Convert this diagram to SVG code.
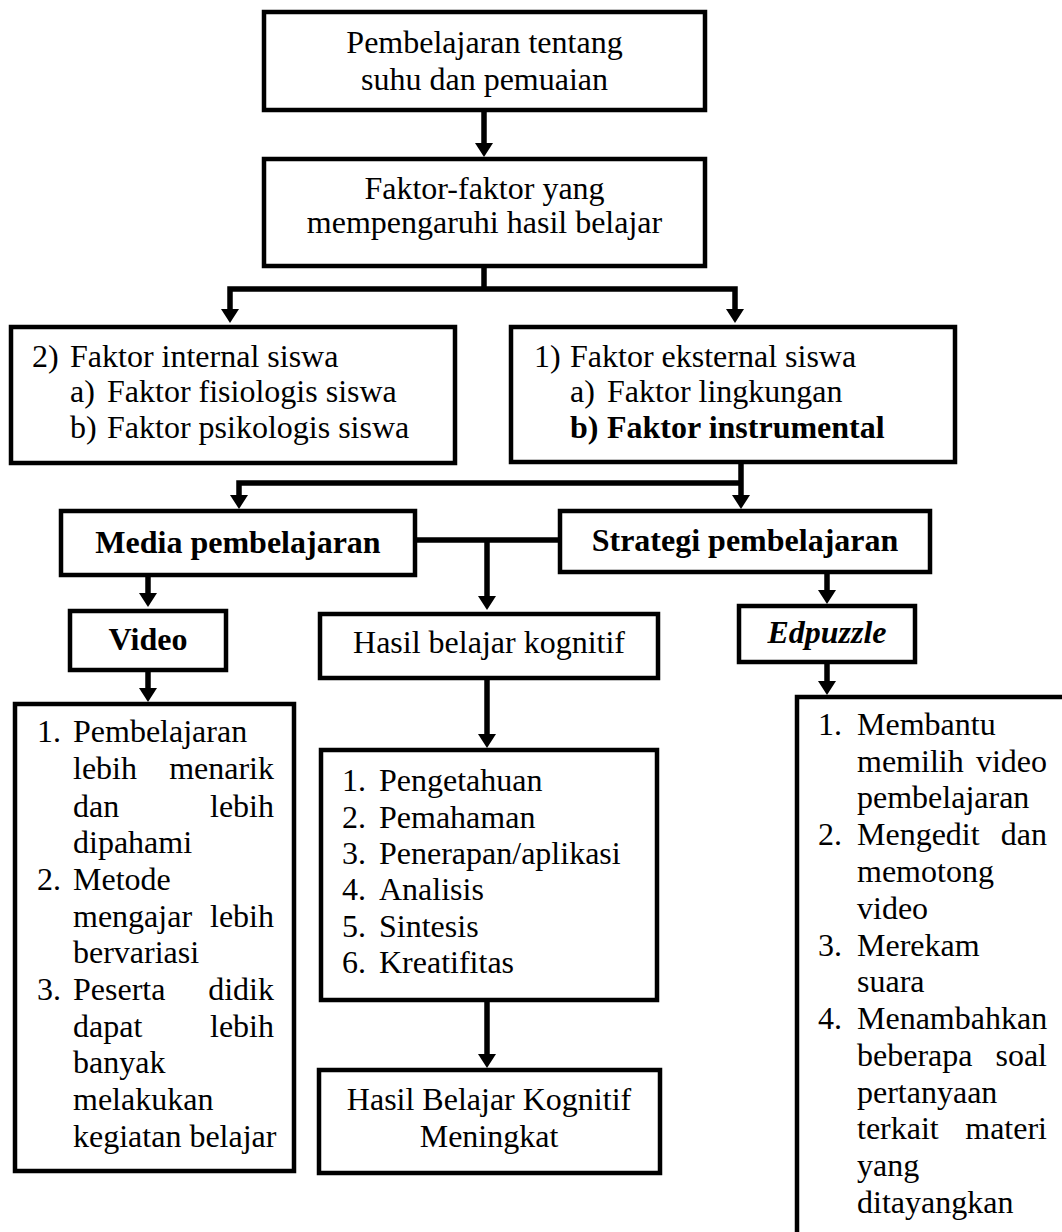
<svg xmlns="http://www.w3.org/2000/svg" width="1062" height="1232" viewBox="0 0 1062 1232">
<style>
.box{fill:#fff;stroke:#000;stroke-width:4.5}
.t{font-family:"Liberation Serif","Times New Roman",serif;font-size:32px;fill:#000}
.c{text-anchor:middle}
.e{text-anchor:end}
.b{font-weight:bold}
.con{fill:none;stroke:#000;stroke-width:5.5}
</style>
<defs>
<marker id="ah" markerUnits="userSpaceOnUse" markerWidth="18" markerHeight="18" refX="0" refY="9" orient="auto" overflow="visible">
<path d="M0,0 L14,9 L0,18 z" fill="#000"/>
</marker>
</defs>
<rect width="1062" height="1232" fill="#fff"/>
<g id="connectors">
<path class="con" d="M484,112 V143" marker-end="url(#ah)"/>
<path class="con" d="M484,268 V289"/>
<path class="con" d="M484,289 H230 V309" marker-end="url(#ah)"/>
<path class="con" d="M484,289 H735 V309" marker-end="url(#ah)"/>
<path class="con" d="M741,464 V495" marker-end="url(#ah)"/>
<path class="con" d="M741,483 H239 V495" marker-end="url(#ah)"/>
<path class="con" d="M417,540 H558"/>
<path class="con" d="M487,540 V596" marker-end="url(#ah)"/>
<path class="con" d="M148,577 V593" marker-end="url(#ah)"/>
<path class="con" d="M148,672 V688" marker-end="url(#ah)"/>
<path class="con" d="M827,574 V590" marker-end="url(#ah)"/>
<path class="con" d="M827,664 V681" marker-end="url(#ah)"/>
<path class="con" d="M487,680 V734" marker-end="url(#ah)"/>
<path class="con" d="M487,1002 V1054" marker-end="url(#ah)"/>
</g>
<g id="n1">
<rect class="box" x="264" y="12" width="441" height="98"/>
<text class="t c" x="484.5" y="53">Pembelajaran tentang</text>
<text class="t c" x="484.5" y="90">suhu dan pemuaian</text>
</g>
<g id="n2">
<rect class="box" x="264" y="159" width="441" height="107"/>
<text class="t c" x="484.5" y="199">Faktor-faktor yang</text>
<text class="t c" x="484.5" y="233">mempengaruhi hasil belajar</text>
</g>
<g id="internal">
<rect class="box" x="11" y="327" width="444" height="136"/>
<text class="t" x="32" y="367">2)</text>
<text class="t" x="70" y="367">Faktor internal siswa</text>
<text class="t" x="70" y="402">a)</text>
<text class="t" x="107" y="402">Faktor fisiologis siswa</text>
<text class="t" x="70" y="438">b)</text>
<text class="t" x="107" y="438">Faktor psikologis siswa</text>
</g>
<g id="eksternal">
<rect class="box" x="511" y="327" width="444" height="135"/>
<text class="t" x="534" y="367">1)</text>
<text class="t" x="570" y="367">Faktor eksternal siswa</text>
<text class="t" x="570" y="402">a)</text>
<text class="t" x="607" y="402">Faktor lingkungan</text>
<text class="t b" x="570" y="438">b)</text>
<text class="t b" x="607" y="438">Faktor instrumental</text>
</g>
<g id="media">
<rect class="box" x="61" y="511" width="354" height="64"/>
<text class="t c b" x="238" y="553">Media pembelajaran</text>
</g>
<g id="strategi">
<rect class="box" x="560" y="511" width="370" height="61"/>
<text class="t c b" x="745" y="551">Strategi pembelajaran</text>
</g>
<g id="video">
<rect class="box" x="70" y="611" width="156" height="59"/>
<text class="t c b" x="148" y="650">Video</text>
</g>
<g id="hasil">
<rect class="box" x="320" y="614" width="338" height="64"/>
<text class="t c" x="489" y="653">Hasil belajar kognitif</text>
</g>
<g id="edpuzzle">
<rect class="box" x="739" y="606" width="176" height="56"/>
<text class="t c b" x="827" y="643" font-style="italic">Edpuzzle</text>
</g>
<g id="video-list">
<rect class="box" x="15" y="704" width="279" height="467"/>
<text class="t" x="37" y="742">1.</text>
<text class="t" x="73" y="742">Pembelajaran</text>
<text class="t" x="73" y="779">lebih</text><text class="t e" x="274" y="779">menarik</text>
<text class="t" x="73" y="817">dan</text><text class="t e" x="274" y="817">lebih</text>
<text class="t" x="73" y="853">dipahami</text>
<text class="t" x="37" y="890">2.</text>
<text class="t" x="73" y="890">Metode</text>
<text class="t" x="73" y="927">mengajar</text><text class="t e" x="274" y="927">lebih</text>
<text class="t" x="73" y="963">bervariasi</text>
<text class="t" x="37" y="1000">3.</text>
<text class="t" x="73" y="1000">Peserta</text><text class="t e" x="274" y="1000">didik</text>
<text class="t" x="73" y="1037">dapat</text><text class="t e" x="274" y="1037">lebih</text>
<text class="t" x="73" y="1073">banyak</text>
<text class="t" x="73" y="1110">melakukan</text>
<text class="t" x="73" y="1147">kegiatan belajar</text>
</g>
<g id="kognitif-list">
<rect class="box" x="321" y="750" width="336" height="250"/>
<text class="t" x="342" y="791">1.</text><text class="t" x="379" y="791">Pengetahuan</text>
<text class="t" x="342" y="828">2.</text><text class="t" x="379" y="828">Pemahaman</text>
<text class="t" x="342" y="864">3.</text><text class="t" x="379" y="864">Penerapan/aplikasi</text>
<text class="t" x="342" y="900">4.</text><text class="t" x="379" y="900">Analisis</text>
<text class="t" x="342" y="937">5.</text><text class="t" x="379" y="937">Sintesis</text>
<text class="t" x="342" y="973">6.</text><text class="t" x="379" y="973">Kreatifitas</text>
</g>
<g id="meningkat">
<rect class="box" x="319" y="1070" width="341" height="103"/>
<text class="t c" x="489" y="1110">Hasil Belajar Kognitif</text>
<text class="t c" x="489" y="1147">Meningkat</text>
</g>
<g id="edpuzzle-list">
<rect class="box" x="797" y="697" width="300" height="600"/>
<text class="t" x="818" y="735">1.</text>
<text class="t" x="857" y="735">Membantu</text>
<text class="t" x="857" y="772">memilih</text><text class="t e" x="1047" y="772">video</text>
<text class="t" x="857" y="808">pembelajaran</text>
<text class="t" x="818" y="845">2.</text>
<text class="t" x="857" y="845">Mengedit</text><text class="t e" x="1047" y="845">dan</text>
<text class="t" x="857" y="882">memotong</text>
<text class="t" x="857" y="919">video</text>
<text class="t" x="818" y="956">3.</text>
<text class="t" x="857" y="956">Merekam</text>
<text class="t" x="857" y="992">suara</text>
<text class="t" x="818" y="1029">4.</text>
<text class="t" x="857" y="1029">Menambahkan</text>
<text class="t" x="857" y="1066">beberapa</text><text class="t e" x="1047" y="1066">soal</text>
<text class="t" x="857" y="1103">pertanyaan</text>
<text class="t" x="857" y="1139">terkait</text><text class="t e" x="1047" y="1139">materi</text>
<text class="t" x="857" y="1176">yang</text>
<text class="t" x="857" y="1213">ditayangkan</text>
</g>
</svg>
